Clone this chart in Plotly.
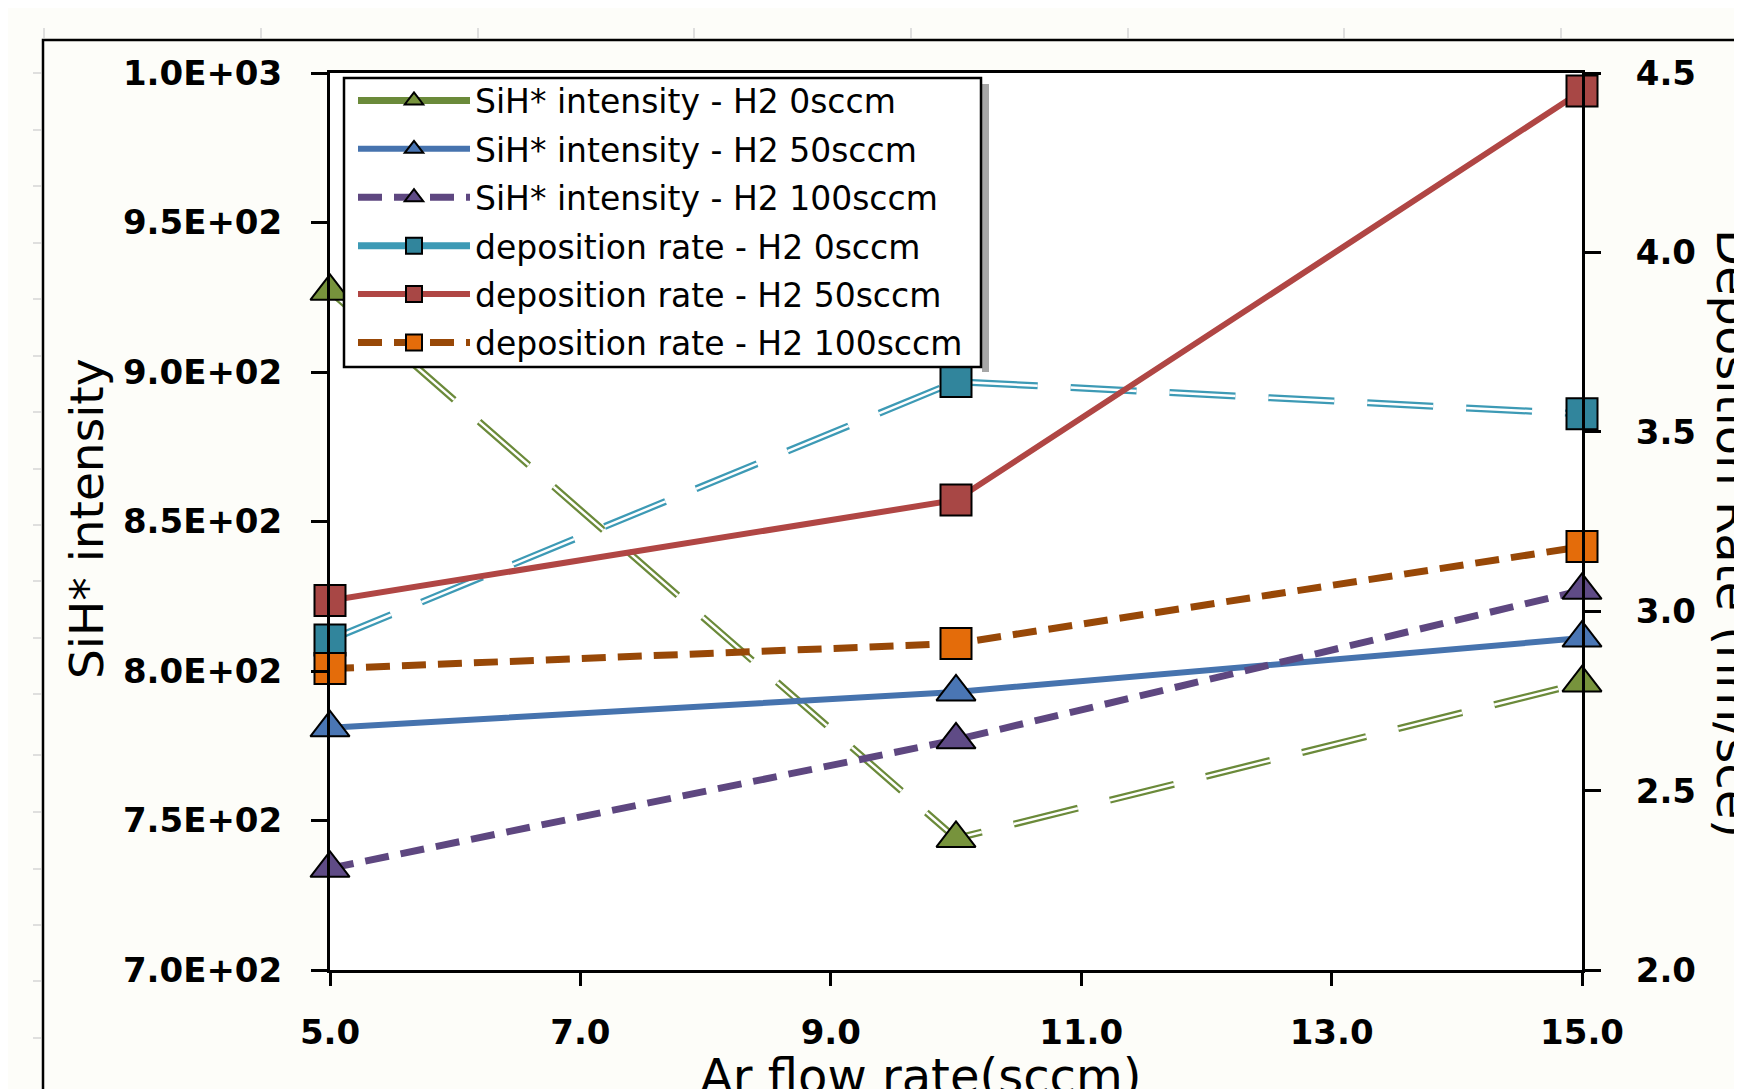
import plotly.graph_objects as go

# ---------------- data ----------------
ar_flow = [5, 10, 15]
sih_h2_0 = [927, 744, 796]
sih_h2_50 = [781, 793, 811]
sih_h2_100 = [734, 777, 827]
dep_h2_0 = [2.92, 3.64, 3.55]
dep_h2_50 = [3.03, 3.31, 4.45]
dep_h2_100 = [2.84, 2.91, 3.18]

series_names = [
    "SiH* intensity - H2 0sccm",
    "SiH* intensity - H2 50sccm",
    "SiH* intensity - H2 100sccm",
    "deposition rate - H2 0sccm",
    "deposition rate - H2 50sccm",
    "deposition rate - H2 100sccm",
]

x_tick_vals = [5, 7, 9, 11, 13, 15]
x_tick_text = ["5.0", "7.0", "9.0", "11.0", "13.0", "15.0"]
y1_tick_vals = [700, 750, 800, 850, 900, 950, 1000]
y1_tick_text = ["7.0E+02", "7.5E+02", "8.0E+02", "8.5E+02", "9.0E+02", "9.5E+02", "1.0E+03"]
y2_tick_vals = [2.0, 2.5, 3.0, 3.5, 4.0, 4.5]
y2_tick_text = ["2.0", "2.5", "3.0", "3.5", "4.0", "4.5"]

x_title = "Ar flow rate(sccm)"
y1_title = "SiH* intensity"
y2_title = "Deposition Rate (nm/sce)"

# ---------------- geometry (screen pixels; page body adds an 8px offset) ----------------
W, H = 1742, 1089
OFF = 8
L, R, T, B = 330, 1582, 73, 970   # plot area on screen


def px(xs):
    return (xs - L) / (R - L)


def py(ys):
    return (B - ys) / (B - T)


fig = go.Figure()

MS_TRI = 34
MS_SQ = 31
LONG = "66px,33px"
SHORT = "24px,12px"


def add_series(name, y, axis, line_color, line_width, dash, marker_color, symbol, msize,
               double=False, legend_dash=None, group=None):
    yaxis = "y" if axis == 1 else "y2"
    mk = dict(color=marker_color, symbol=symbol, size=msize, line=dict(color="black", width=2))
    fig.add_trace(go.Scatter(
        x=ar_flow, y=y, name=name, yaxis=yaxis, mode="lines", showlegend=False,
        legendgroup=group, cliponaxis=False,
        line=dict(color=line_color, width=line_width, dash=dash),
    ))
    if double:
        fig.add_trace(go.Scatter(
            x=ar_flow, y=y, yaxis=yaxis, mode="lines", showlegend=False,
            legendgroup=group, cliponaxis=False, hoverinfo="skip",
            line=dict(color="white", width=2.5, dash=dash),
        ))
    fig.add_trace(go.Scatter(
        x=ar_flow, y=y, name=name, yaxis=yaxis, mode="markers", showlegend=False,
        legendgroup=group, cliponaxis=False, marker=mk,
    ))
    # legend entry
    fig.add_trace(go.Scatter(
        x=[None], y=[None], name=name, yaxis=yaxis, mode="lines+markers",
        showlegend=True, legendgroup=group, hoverinfo="skip",
        line=dict(color=line_color, width=line_width, dash=legend_dash or dash),
        marker=mk,
    ))


add_series(series_names[0], sih_h2_0, 1, "#6B8A3A", 7, LONG, "#77933C", "triangle-up", MS_TRI, True, "solid", "g0")
add_series(series_names[1], sih_h2_50, 1, "#4673AE", 6, "solid", "#4A76B4", "triangle-up", MS_TRI, group="g1")
add_series(series_names[2], sih_h2_100, 1, "#5E4780", 7, SHORT, "#5F4B86", "triangle-up", MS_TRI, group="g2")
add_series(series_names[3], dep_h2_0, 2, "#3D9AB5", 7, LONG, "#31859C", "square", MS_SQ, True, "solid", "g3")
add_series(series_names[4], dep_h2_50, 2, "#B04644", 6, "solid", "#A84745", "square", MS_SQ, group="g4")
add_series(series_names[5], dep_h2_100, 2, "#984807", 7, SHORT, "#E46C0A", "square", MS_SQ, group="g5")

tickfont = dict(family="DejaVu Sans", size=34, color="black", weight="bold")

fig.update_layout(
    width=W, height=H,
    margin=dict(l=L - OFF, r=W - (R - OFF), t=T - OFF, b=H - (B - OFF), pad=0),
    paper_bgcolor="#fdfdf9",
    plot_bgcolor="white",
    font=dict(family="DejaVu Sans", color="black"),
    xaxis=dict(
        range=[5, 15], tickvals=x_tick_vals, ticktext=x_tick_text,
        showgrid=False, zeroline=False, showline=True, linecolor="black", linewidth=3,
        mirror=True, ticks="outside", ticklen=13, tickwidth=2.5, tickcolor="black",
        tickfont=tickfont, ticklabelstandoff=17,
    ),
    yaxis=dict(
        range=[700, 1000], tickvals=y1_tick_vals, ticktext=y1_tick_text,
        showgrid=False, zeroline=False, showline=True, linecolor="black", linewidth=3,
        ticks="outside", ticklen=16, tickwidth=2.5, tickcolor="black",
        tickfont=tickfont, ticklabelstandoff=22,
    ),
    yaxis2=dict(
        range=[2.0, 4.5], tickvals=y2_tick_vals, ticktext=y2_tick_text,
        overlaying="y", side="right",
        showgrid=False, zeroline=False, showline=True, linecolor="black", linewidth=3,
        ticks="outside", ticklen=16, tickwidth=2.5, tickcolor="black",
        tickfont=tickfont, ticklabelstandoff=28,
    ),
    legend=dict(
        x=px(353), y=py(72.5), xanchor="left", yanchor="top",
        bgcolor="rgba(0,0,0,0)", borderwidth=0,
        font=dict(family="DejaVu Sans", size=33, color="black"),
        itemwidth=112, traceorder="grouped", tracegroupgap=2.5,
    ),
    showlegend=True,
)

# axis titles as annotations (positioned like the reference, partly clipped)
fig.add_annotation(text=x_title, xref="paper", yref="paper", x=px(920), y=py(1046),
                   xanchor="center", yanchor="top", showarrow=False,
                   font=dict(family="DejaVu Sans", size=48, color="black"))
fig.add_annotation(text=y1_title, xref="paper", yref="paper", x=px(86), y=py(519),
                   xanchor="center", yanchor="middle", showarrow=False, textangle=-90,
                   font=dict(family="DejaVu Sans", size=47, color="black"))
fig.add_annotation(text=y2_title, xref="paper", yref="paper", x=px(1734), y=py(533),
                   xanchor="center", yanchor="middle", showarrow=False, textangle=90,
                   font=dict(family="DejaVu Sans", size=48, color="black"))

# outer chart frame (extends past the right/bottom edges of the picture)
fig.add_shape(type="rect", xref="paper", yref="paper",
              x0=px(43), x1=px(1800), y0=py(1150), y1=py(40),
              line=dict(color="black", width=2.5), fillcolor="rgba(0,0,0,0)", layer="above")

# legend shadow and box
fig.add_shape(type="rect", xref="paper", yref="paper",
              x0=px(982), x1=px(989), y0=py(372), y1=py(84),
              line=dict(width=0), fillcolor="#a6a6a6", layer="above")
fig.add_shape(type="rect", xref="paper", yref="paper",
              x0=px(344), x1=px(981), y0=py(367), y1=py(78),
              line=dict(color="black", width=2.5), fillcolor="white", layer="above")

# faint sheet ticks outside the frame
for xv in [44, 261, 478, 694, 911, 1128, 1344, 1561]:
    fig.add_shape(type="line", xref="paper", yref="paper",
                  x0=px(xv), x1=px(xv), y0=py(28), y1=py(38),
                  line=dict(color="#d4d4d4", width=1.5))
for yv in [73, 130, 186, 243, 299, 356, 412, 469, 525, 581, 638, 694, 755, 812, 869, 925, 981, 1038]:
    fig.add_shape(type="line", xref="paper", yref="paper",
                  x0=px(33), x1=px(41), y0=py(yv), y1=py(yv),
                  line=dict(color="#d4d4d4", width=1.5))

fig.write_html("out.html")
